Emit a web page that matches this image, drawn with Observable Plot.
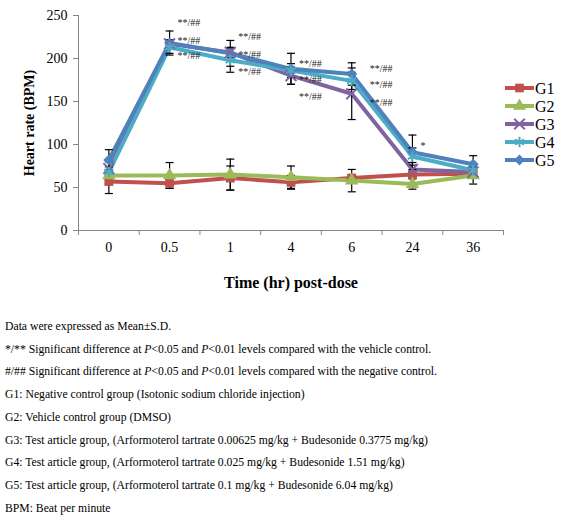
<!DOCTYPE html>
<html>
<head>
<meta charset="utf-8">
<script src="https://cdn.jsdelivr.net/npm/d3@7"></script>
<script src="https://cdn.jsdelivr.net/npm/@observablehq/plot@0.6"></script>
<style>
  body { margin: 0; background: #fff; }
  #wrap { position: relative; width: 574px; height: 521px; font-family: "Liberation Serif", "Times New Roman", serif; }
  #chart svg { display: block; }
  #chart g[aria-label="y-axis label"] text { font-weight: bold; font-size: 14px; }
  #chart g[aria-label="x-axis label"] text { font-weight: bold; font-size: 16px; }
  #legend { position: absolute; left: 500px; top: 76px; }
  #caption { position: absolute; left: 5px; top: 316px; font-family: "Liberation Serif", serif; font-size: 11.7px; line-height: 22.7px; color: #000; }
  #caption div { white-space: nowrap; }
</style>
</head>
<body>
<div id="wrap">
  <div id="chart"></div>
  <div id="legend"></div>
  <div id="caption">
    <div>Data were expressed as Mean±S.D.</div>
    <div>*/** Significant difference at <i>P</i>&lt;0.05 and <i>P</i>&lt;0.01 levels compared with the vehicle control.</div>
    <div>#/## Significant difference at <i>P</i>&lt;0.05 and <i>P</i>&lt;0.01 levels compared with the negative control.</div>
    <div>G1: Negative control group (Isotonic sodium chloride injection)</div>
    <div>G2: Vehicle control group (DMSO)</div>
    <div>G3: Test article group, (Arformoterol tartrate 0.00625 mg/kg + Budesonide 0.3775 mg/kg)</div>
    <div>G4: Test article group, (Arformoterol tartrate 0.025 mg/kg + Budesonide 1.51 mg/kg)</div>
    <div>G5: Test article group, (Arformoterol tartrate 0.1 mg/kg + Budesonide 6.04 mg/kg)</div>
    <div>BPM: Beat per minute</div>
  </div>
</div>
<script>
// ---- data ----
const times = ["0", "0.5", "1", "4", "6", "24", "36"];
const groups = ["G1", "G2", "G3", "G4", "G5"];
const g1 = [57, 55, 61, 56, 61, 65, 66];
const g2 = [64, 64, 65, 62, 58, 54, 64];
const g3 = [72, 217, 207, 180, 159, 71, 68];
const g4 = [68, 213, 198, 186, 174, 86, 70];
const g5 = [82, 218, 206, 188, 182, 91, 77];
const sd1 = [14, 6, 14, 8, 3, 3, 5];
const sd2 = [5, 15, 18, 13, 13, 6, 10];
const sd3 = [8, 5, 6, 10, 30, 8, 5];
const sd4 = [6, 7, 14, 8, 10, 10, 6];
const sd5 = [12, 14, 15, 18, 13, 20, 10];
const yTicks = [0, 50, 100, 150, 200, 250];
const annotTime = ["0.5", "0.5", "0.5", "1", "1", "1", "4", "4", "4", "24"];
const annotY = [241, 221, 203, 225, 204, 185, 194, 175, 155, 98];
const annotText = ["**/##", "**/##", "**/##", "**/##", "**/##", "**/##", "**/##", "**/##", "**/##", "*"];
const annot6Time = ["6", "6", "6"];
const annot6Y = [188, 169, 149];
const annot6Text = ["**/##", "**/##", "**/##"];

// ---- styles ----
const colors = ["#C0504D", "#9BBB59", "#8064A2", "#4BACC6", "#4F81BD"];
const symbols = ["square", "triangle", "times", "asterisk", "diamond2"];

const values = [g1, g2, g3, g4, g5];
const sds = [sd1, sd2, sd3, sd4, sd5];
const rows = groups.flatMap((g, gi) => times.map((t, i) => ({
  group: g, idx: i, value: values[gi][i], sd: sds[gi][i]
})));
const annots = annotTime.map((t, i) => ({idx: times.indexOf(t), y: annotY[i], text: annotText[i]}));
const annots6 = annot6Time.map((t, i) => ({idx: times.indexOf(t), y: annot6Y[i], text: annot6Text[i]}));

const capSymbol = {
  draw(context, size) {
    const r = Math.sqrt(size / Math.PI);
    context.moveTo(-r, 0);
    context.lineTo(r, 0);
  }
};
const filled = new Set(["G1", "G2", "G5"]);

const chart = Plot.plot({
  width: 574,
  height: 300,
  marginLeft: 78,
  marginRight: 71,
  marginTop: 15,
  marginBottom: 70,
  style: {fontFamily: "Liberation Serif, Times New Roman, serif", fontSize: "14px", color: "#000", background: "#fff"},
  x: {type: "linear", domain: [-0.5, times.length - 0.5]},
  y: {domain: [0, 250]},
  color: {domain: groups, range: colors},
  symbol: {domain: groups, range: symbols},
  marks: [
    Plot.ruleY([0], {stroke: "#868686", strokeWidth: 1}),
    Plot.ruleX([-0.5], {stroke: "#868686", strokeWidth: 1}),
    Plot.axisY({ticks: yTicks, tickSize: 5, tickPadding: 6, stroke: "#868686", fill: "#000",
      label: "Heart rate (BPM)", labelAnchor: "center", labelOffset: 54, labelArrow: "none"}),
    Plot.axisX({ticks: d3.range(times.length), tickSize: 0, tickPadding: 12, fill: "#000",
      tickFormat: i => times[i], label: "Time (hr) post-dose", labelAnchor: "center", labelOffset: 57, labelArrow: "none"}),
    Plot.axisX({ticks: d3.range(times.length + 1).map(i => i - 0.5), tickSize: 5, stroke: "#868686",
      tickFormat: () => "", label: null}),
    Plot.line(rows, {x: "idx", y: "value", z: "group", stroke: "group", strokeWidth: 4}),
    Plot.ruleX(rows, {x: "idx", y1: d => d.value - d.sd, y2: d => d.value + d.sd, stroke: "#000", strokeWidth: 1.2}),
    Plot.dot(rows, {x: "idx", y: d => d.value - d.sd, symbol: capSymbol, r: 4, stroke: "#000", strokeWidth: 1.2}),
    Plot.dot(rows, {x: "idx", y: d => d.value + d.sd, symbol: capSymbol, r: 4, stroke: "#000", strokeWidth: 1.2}),
    Plot.dot(rows.filter(d => filled.has(d.group)), {x: "idx", y: "value", symbol: "group", fill: "group", r: 5, stroke: "none"}),
    Plot.dot(rows.filter(d => !filled.has(d.group)), {x: "idx", y: "value", symbol: "group", stroke: "group", r: 5, strokeWidth: 2}),
    Plot.text(annots, {x: "idx", y: "y", text: "text", dx: 8, textAnchor: "start", lineAnchor: "middle", fontSize: 10, fill: "#222"}),
    Plot.text(annots6, {x: "idx", y: "y", text: "text", dx: 18, textAnchor: "start", lineAnchor: "middle", fontSize: 10, fill: "#222"})
  ]
});
document.getElementById("chart").appendChild(chart);

// ---- legend ----
const lg = d3.select("#legend").append("svg").attr("width", 74).attr("height", 100)
  .style("font-family", "Liberation Serif, Times New Roman, serif");
groups.forEach((g, i) => {
  const y = 12 + i * 18;
  const row = lg.append("g").attr("transform", `translate(0,${y})`);
  row.append("line").attr("x1", 5).attr("x2", 34).attr("stroke", colors[i]).attr("stroke-width", 4);
  const symName = {square: d3.symbolSquare, triangle: d3.symbolTriangle, times: d3.symbolTimes, asterisk: d3.symbolAsterisk, diamond2: d3.symbolDiamond2}[symbols[i]];
  const p = row.append("path").attr("transform", "translate(19.5,0)").attr("d", d3.symbol(symName, 75)());
  if (filled.has(g)) p.attr("fill", colors[i]); else p.attr("fill", "none").attr("stroke", colors[i]).attr("stroke-width", 2);
  row.append("text").attr("x", 35).attr("dy", "0.35em").attr("font-size", 16).attr("fill", "#000").text(g);
});
</script>
</body>
</html>
